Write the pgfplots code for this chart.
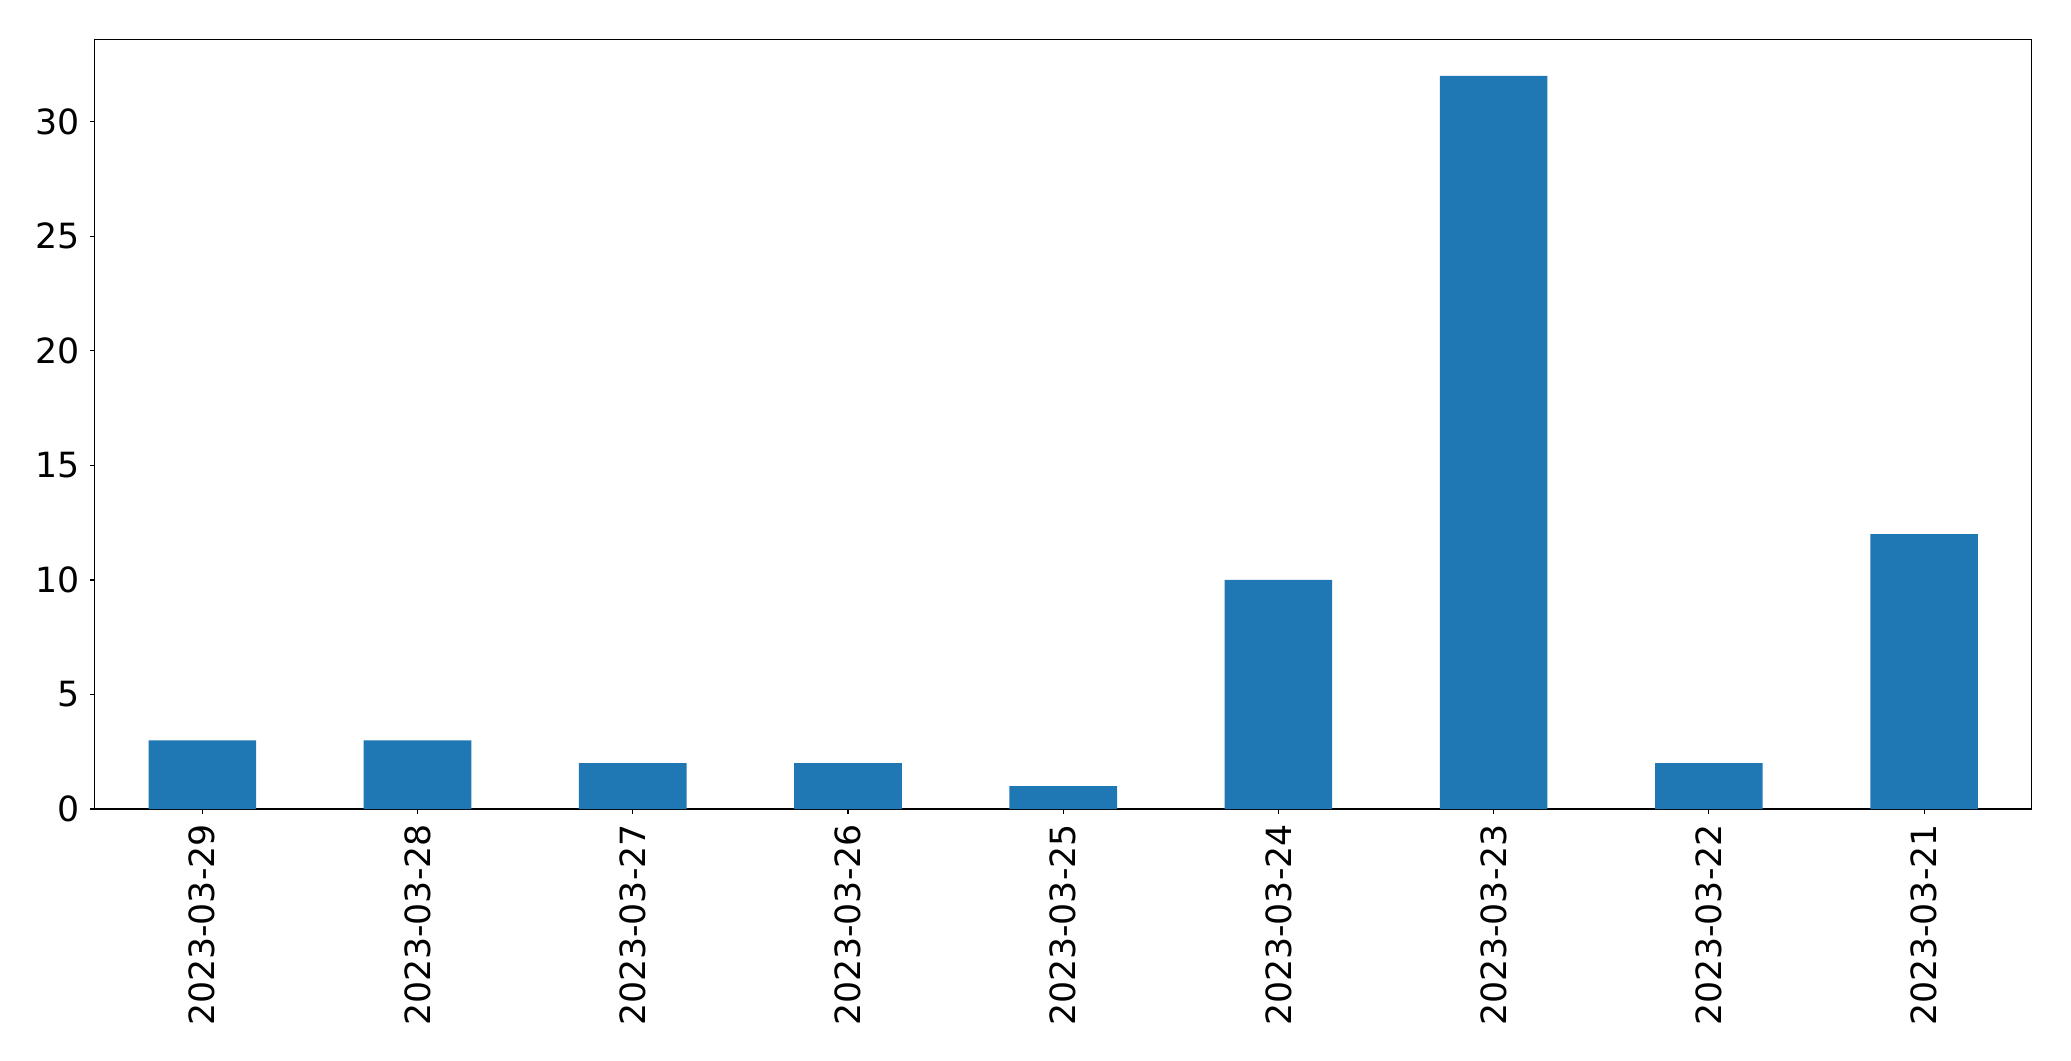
\documentclass[border=0pt]{standalone}
\usepackage{fontspec}
\setmainfont{DejaVu Sans}
\usepackage{pgfplots}
\pgfplotsset{compat=1.18}
\definecolor{mplblue}{HTML}{1F77B4}
\begin{document}
\begin{tikzpicture}
\path[use as bounding box] (-68.2pt,-181.4pt) rectangle (1422.9pt,582.5pt);
\begin{axis}[
  at={(0pt,0pt)}, anchor=south west,
  scale only axis,
  width=1394.6pt, height=554.2pt,
  xmin=-0.5, xmax=8.5, ymin=0, ymax=33.6,
  xtick={0,1,2,3,4,5,6,7,8},
  xticklabels={2023-03-29,2023-03-28,2023-03-27,2023-03-26,2023-03-25,2023-03-24,2023-03-23,2023-03-22,2023-03-21},
  ytick={0,5,10,15,20,25,30},
  tick align=outside,
  major tick length=3.5pt,
  tick style={line width=0.8pt, black},
  axis line style={line width=0.8pt},
  every axis/.append style={line width=0.8pt},
  xtick pos=lower, ytick pos=left,
  /pgf/number format/assume math mode=true,
  ticklabel style={font=\fontsize{25}{30}\selectfont, inner sep=0pt},
  xticklabel style={rotate=90, anchor=east},
  yticklabel style={anchor=east},
  xticklabel shift=7pt,
  yticklabel shift=7pt,
]
\addplot[ybar, bar width=0.5, fill=mplblue, draw=none] coordinates {
  (0,3) (1,3) (2,2) (3,2) (4,1) (5,10) (6,32) (7,2) (8,12)
};
\end{axis}
\end{tikzpicture}
\end{document}
